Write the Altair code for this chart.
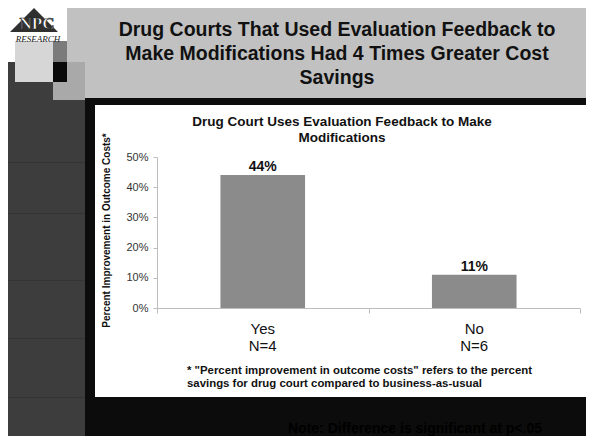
import altair as alt
import pandas as pd

# ---------------- data ----------------
categories = ["Yes", "No"]
improvement = [0.44, 0.11]
sample_sizes = ["N=4", "N=6"]
y_tick_values = [0.0, 0.1, 0.2, 0.3, 0.4, 0.5]

slide_title = [
    "Drug Courts That Used Evaluation Feedback to",
    "Make Modifications Had 4 Times Greater Cost",
    "Savings",
]
chart_title = ["Drug Court Uses Evaluation Feedback to Make", "Modifications"]
y_title = "Percent Improvement in Outcome Costs*"
footnote = [
    '* "Percent improvement in outcome costs" refers to the percent',
    "savings for drug court compared to business-as-usual",
]
note = "Note: Difference is significant at p<.05"

FONT = "Liberation Sans"
W, H = 423, 151          # plot area of the bar chart
OX, OY = 157, 157        # plot-area origin in page pixels

df = pd.DataFrame({"group": categories, "value": improvement, "n": sample_sizes})
df["label"] = [f"{round(v * 100)}%" for v in improvement]

one = pd.DataFrame({"k": [0]})


def rect(x0, y0, x1, y1, color):
    return alt.Chart(one).mark_rect(color=color).encode(
        x=alt.value(x0 - OX), x2=alt.value(x1 - OX),
        y=alt.value(y0 - OY), y2=alt.value(y1 - OY))


def label(txt, x, y, size, weight="normal", color="#111111", align="center",
          font=FONT, style="normal"):
    return alt.Chart(one).mark_text(
        text=txt, fontSize=size, fontWeight=weight, color=color, align=align,
        baseline="alphabetic", font=font, fontStyle=style,
    ).encode(x=alt.value(x - OX), y=alt.value(y - OY))


layers = []
# slide background pieces
layers.append(rect(8, 8, 600, 98, "#c1c1c1"))          # title banner
layers.append(rect(8, 62, 85, 450, "#3d3d3d"))         # left column
for yy in [162, 213, 280, 338, 397]:
    layers.append(rect(8, yy, 85, yy + 1, "#343434"))
layers.append(rect(8, 8, 67, 62, "#ffffff"))           # logo box
layers.append(rect(15, 41, 53, 82, "#d6d6d6"))
layers.append(rect(53, 41, 67, 62, "#7b7b7b"))
layers.append(rect(53, 62, 85, 100, "#a9a9a9"))
layers.append(rect(53, 62, 67, 82, "#0a0a0a"))
# logo
layers.append(alt.Chart(one).mark_point(
    shape="M0,-1L1,0L-1,0Z", filled=True, size=2304, color="#303030",
    opacity=1, strokeWidth=0).encode(x=alt.value(34 - OX), y=alt.value(32 - OY)))
layers.append(alt.Chart(one).mark_text(
    text="NPC", fontSize=17, font="Liberation Serif", fontWeight="bold",
    color="#ffffff", stroke="#222222", strokeWidth=0.7, baseline="alphabetic",
    align="center").encode(x=alt.value(37 - OX), y=alt.value(29 - OY)))
layers.append(label("RESEARCH", 38, 42, 9, color="#222222",
                    font="Liberation Serif", style="italic"))

# white chart box
layers.append(rect(95, 105, 588, 397, "#ffffff"))

# slide title
for i, line in enumerate(slide_title):
    layers.append(label(line, 337, 36 + 24 * i, 19.5, weight="bold", color="#111111"))

# chart title
for i, line in enumerate(chart_title):
    layers.append(label(line, 342, 126 + 16 * i, 13.5, weight="bold", color="#111111"))

# footnote
for i, line in enumerate(footnote):
    layers.append(label(line, 187, 374 + 13 * i, 11.4, weight="bold",
                        color="#111111", align="left"))

# significance note (dark on dark)
layers.append(label(note, 288, 433, 14, weight="bold", color="#000000", align="left"))

# ---------------- bar chart ----------------
axis_grey = "#bdbdbd"
x_axis = alt.Axis(labels=False, title=None, tickBand="extent", tickSize=5,
                  domainColor=axis_grey, tickColor=axis_grey, grid=False, zindex=1)
y_axis = alt.Axis(values=y_tick_values, format=".0%", grid=False,
                  domainColor=axis_grey, tickColor=axis_grey, tickSize=4,
                  labelPadding=5, labelFontSize=11, labelColor="#333333",
                  labelFont=FONT, title=y_title, titleX=-51, titleY=73,
                  titleAngle=-90, titleAlign="center", titleBaseline="middle",
                  titleFontSize=10, titleFontWeight="bold", titleColor="#111111",
                  titleFont=FONT, zindex=1)
x_enc = alt.X("group:N", scale=alt.Scale(domain=categories, paddingInner=0,
                                         paddingOuter=0), axis=x_axis)
y_enc = alt.Y("value:Q", scale=alt.Scale(domain=[0, 0.5]), axis=y_axis)

base = alt.Chart(df)
bars = base.mark_bar(color="#8b8b8b", width=alt.RelativeBandSize(0.4)).encode(
    x=x_enc, y=y_enc)
bar_labels = base.mark_text(fontSize=14, fontWeight="bold", color="#111111",
                            baseline="alphabetic", dy=-4, font=FONT).encode(
    x=x_enc, y=y_enc, text="label:N")
cat_labels = base.mark_text(fontSize=15, color="#111111", baseline="alphabetic",
                            font=FONT).encode(
    x=x_enc, y=alt.value(334 - OY), text="group:N")
n_labels = base.mark_text(fontSize=15, color="#111111", baseline="alphabetic",
                          font=FONT).encode(
    x=x_enc, y=alt.value(351 - OY), text="n:N")

layers += [bars, bar_labels, cat_labels, n_labels]

chart = alt.layer(*layers).properties(
    width=W, height=H,
    padding={"left": OX - 8, "top": OY - 8, "right": 578 - (OX - 8) - W,
             "bottom": 428 - (OY - 8) - H},
    autosize=alt.AutoSizeParams(type="none"),
    background="#0c0c0c",
).configure_view(stroke=None).configure(font=FONT)

chart.save("out.html", embed_options={"renderer": "svg", "actions": False})
